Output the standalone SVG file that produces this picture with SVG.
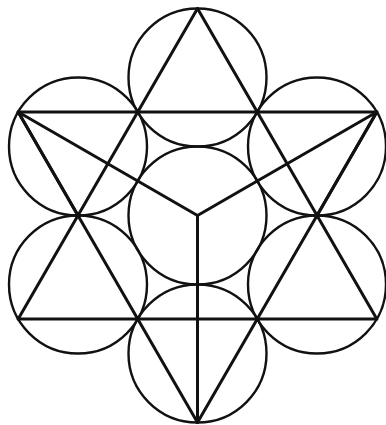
<svg xmlns="http://www.w3.org/2000/svg" width="386" height="425" viewBox="0 0 386 425">
<style>
.c{fill:none;stroke:#111;stroke-width:2.4}
.l{stroke:#111;stroke-width:3;stroke-linecap:round}
</style>
<rect width="386" height="425" fill="#fff"/>
<g id="circles">
<circle id="c-top" class="c" cx="197.5" cy="77.5" r="69"/>
<circle id="c-center" class="c" cx="197.5" cy="215.5" r="69"/>
<circle id="c-bottom" class="c" cx="197.5" cy="353.5" r="69"/>
<circle id="c-ul" class="c" cx="78" cy="146.5" r="69"/>
<circle id="c-ur" class="c" cx="317" cy="146.5" r="69"/>
<circle id="c-ll" class="c" cx="78" cy="284.5" r="69"/>
<circle id="c-lr" class="c" cx="317" cy="284.5" r="69"/>
</g>
<g id="lines">
<line class="l" x1="18.2" y1="112" x2="376.8" y2="112"/>
<line class="l" x1="18.2" y1="319" x2="376.8" y2="319"/>
<line class="l" x1="197.5" y1="8.5" x2="18.2" y2="319"/>
<line class="l" x1="197.5" y1="8.5" x2="376.8" y2="319"/>
<line class="l" x1="18.2" y1="112" x2="197.5" y2="422.5"/>
<line class="l" x1="376.8" y1="112" x2="197.5" y2="422.5"/>
<line class="l" x1="18.2" y1="112" x2="78" y2="215.5"/>
<line class="l" x1="376.8" y1="112" x2="317" y2="215.5"/>
<line class="l" x1="18.2" y1="112" x2="197.5" y2="215.5"/>
<line class="l" x1="376.8" y1="112" x2="197.5" y2="215.5"/>
<line class="l" x1="197.5" y1="215.5" x2="197.5" y2="422.5"/>
</g>
</svg>
